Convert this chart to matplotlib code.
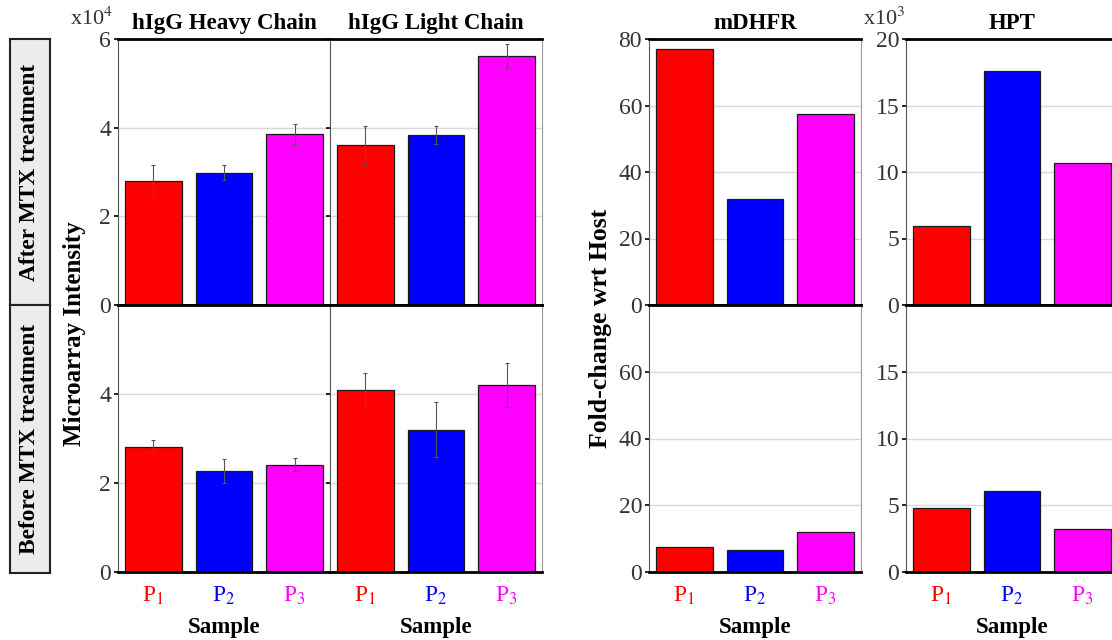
import matplotlib
matplotlib.use("Agg")
import matplotlib.pyplot as plt

plt.rcParams["font.family"] = ["Liberation Serif", "DejaVu Serif"]
plt.rcParams["mathtext.fontset"] = "stix"

# %%
## data (hIgG in x10^4 intensity units, HPT in x10^3 fold-change)
samples = ["P$_1$", "P$_2$", "P$_3$"]
sample_colors = ["#ff0000", "#0000ff", "#ff00ff"]

heavy_after = [2.79, 2.98, 3.86]
heavy_after_err = [0.36, 0.17, 0.23]
light_after = [3.61, 3.84, 5.62]
light_after_err = [0.42, 0.20, 0.27]
heavy_before = [2.82, 2.27, 2.41]
heavy_before_err = [0.15, 0.26, 0.15]
light_before = [4.09, 3.20, 4.20]
light_before_err = [0.39, 0.62, 0.50]

mdhfr_after = [77.1, 32.0, 57.4]
mdhfr_before = [7.6, 6.5, 11.9]
hpt_after = [5.95, 17.6, 10.64]
hpt_before = [4.77, 6.08, 3.22]

W, H = 1112, 640


def box(x0, x1, y0, y1):
    # pixel box (top-left origin) -> figure fraction
    return [x0 / W, 1 - y1 / H, (x1 - x0) / W, (y1 - y0) / H]


def panel(fig, rect, values, err, ylim, yticks, labels=True, bottom=False, title=None):
    ax = fig.add_axes(rect)
    x = range(len(values))
    ax.bar(x, values, width=0.8, color=sample_colors, edgecolor="#1a1a1a", linewidth=0.9, zorder=2)
    if err is not None:
        ax.errorbar(x, values, yerr=err, fmt="none", ecolor="#555555", elinewidth=0.8,
                    capsize=1.5, capthick=0.8, zorder=3)
    ax.set_xlim(-0.5, 2.5)
    ax.set_ylim(*ylim)
    ax.set_yticks(yticks)
    ax.yaxis.grid(True, color="#d9d9d9", linewidth=1)
    ax.set_axisbelow(True)
    ax.tick_params(axis="y", length=3, width=1.2, color="black", labelsize=17,
                   labelcolor="#333333", pad=2, labelleft=labels)
    ax.tick_params(axis="x", length=0, labelsize=17, pad=9)
    ax.spines["top"].set_color("black")
    ax.spines["top"].set_linewidth(2)
    ax.spines["bottom"].set_color("black")
    ax.spines["bottom"].set_linewidth(2)
    ax.spines["left"].set_color("#555555")
    ax.spines["right"].set_color("#999999")
    if bottom:
        ax.set_xticks(list(x))
        ax.set_xticklabels(samples)
        for lab, c in zip(ax.get_xticklabels(), sample_colors):
            lab.set_color(c)
        ax.set_xlabel("Sample", fontsize=16.5, fontweight="bold", labelpad=7)
    else:
        ax.set_xticks([])
    if title:
        ax.set_title(title, fontsize=16.5, fontweight="bold", pad=7)
    return ax


fig = plt.figure(figsize=(W / 100, H / 100), dpi=100)
fig.patch.set_facecolor("white")

top = (39, 305)
bot = (305, 572)

# %%
## hIgG panels
panel(fig, box(118, 330, *top), heavy_after, heavy_after_err, (0, 6), [0, 2, 4, 6],
      title="hIgG Heavy Chain")
panel(fig, box(330, 542, *top), light_after, light_after_err, (0, 6), [0, 2, 4, 6],
      labels=False, title="hIgG Light Chain")
panel(fig, box(118, 330, *bot), heavy_before, heavy_before_err, (0, 6), [0, 2, 4],
      bottom=True)
panel(fig, box(330, 542, *bot), light_before, light_before_err, (0, 6), [0, 2, 4],
      labels=False, bottom=True)

# %%
## mDHFR / HPT panels
panel(fig, box(649, 861, *top), mdhfr_after, None, (0, 80), [0, 20, 40, 60, 80], title="mDHFR")
panel(fig, box(906, 1118, *top), hpt_after, None, (0, 20), [0, 5, 10, 15, 20], title="HPT")
panel(fig, box(649, 861, *bot), mdhfr_before, None, (0, 80), [0, 20, 40, 60], bottom=True)
panel(fig, box(906, 1118, *bot), hpt_before, None, (0, 20), [0, 5, 10, 15], bottom=True)

# %%
## strips, axis labels, multipliers
for (y0, y1), label in [((39, 305), "After MTX treatment"), ((305, 573), "Before MTX treatment")]:
    sax = fig.add_axes(box(10, 50, y0, y1))
    sax.set_facecolor("#ececec")
    sax.set_xticks([])
    sax.set_yticks([])
    for s in sax.spines.values():
        s.set_color("#222222")
        s.set_linewidth(1.5)
    sax.text(0.5, 0.5, label, rotation=90, ha="center", va="center", fontsize=16.8,
             fontweight="bold", transform=sax.transAxes)

fig.text(74 / W, 1 - 334 / H, "Microarray Intensity", rotation=90, ha="center", va="center",
         fontsize=18, fontweight="bold")
fig.text(600 / W, 1 - 328 / H, "Fold-change wrt Host", rotation=90, ha="center", va="center",
         fontsize=18.5, fontweight="bold")
fig.text(70 / W, 1 - 25 / H, "x10$^{4}$", ha="left", va="baseline", fontsize=16, color="#333333")
fig.text(863 / W, 1 - 25 / H, "x10$^{3}$", ha="left", va="baseline", fontsize=16, color="#333333")

fig.savefig("out.png", dpi=100)
